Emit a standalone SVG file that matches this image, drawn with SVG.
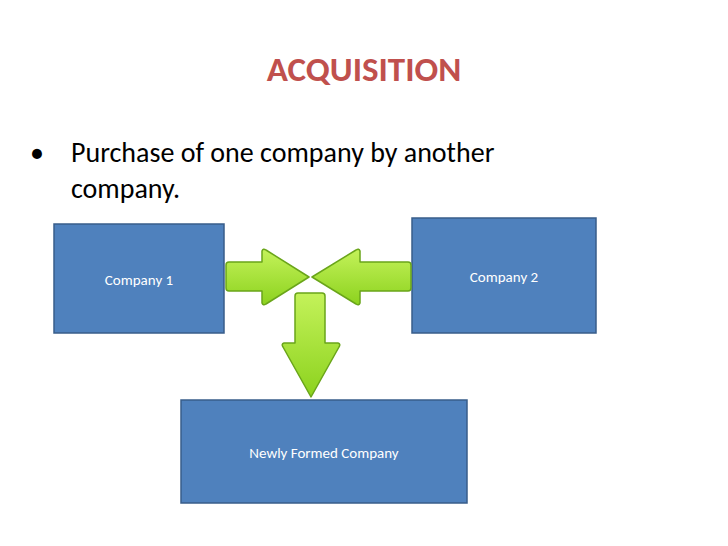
<svg xmlns="http://www.w3.org/2000/svg" width="728" height="546" viewBox="0 0 728 546">
<style>
.box{fill:#4f81bd;stroke:#385d8a;stroke-width:1.5}
.lbl{font-family:Calibri,Carlito,"Liberation Sans",sans-serif;font-size:15px;fill:#fff;text-anchor:middle}
.arr{fill:url(#g);stroke:#6aa51a;stroke-width:1.5;stroke-linejoin:round}
</style>
<defs>
<linearGradient id="g" x1="0" y1="0" x2="0" y2="1">
<stop offset="0" stop-color="#c4f25a"/><stop offset="1" stop-color="#8cd21e"/>
</linearGradient>
</defs>
<rect width="728" height="546" fill="#fff"/>
<text x="364" y="81" font-family="Calibri,Carlito,'Liberation Sans',sans-serif" font-size="35" font-weight="bold" fill="#c0504d" text-anchor="middle">ACQUISITION</text>
<text x="30" y="162" font-family="Calibri,Carlito,'Liberation Sans',sans-serif" font-size="28" fill="#000">•</text>
<text font-family="Calibri,Carlito,'Liberation Sans',sans-serif" font-size="28" fill="#000"><tspan x="71" y="162">Purchase of one company by another</tspan><tspan x="71" y="198">company.</tspan></text>
<g id="company1"><rect class="box" x="54" y="224" width="170" height="109"/><text class="lbl" x="139" y="285">Company 1</text></g>
<g id="company2"><rect class="box" x="412" y="218" width="184" height="115"/><text class="lbl" x="504" y="282">Company 2</text></g>
<g id="newco"><rect class="box" x="181" y="400" width="286" height="103"/><text class="lbl" x="324" y="458">Newly Formed Company</text></g>
<g id="connectors">
<path class="arr" d="M226,265 Q226,262 229,262 L262,262 L262,251 Q263,248 266,250 L309,277 L266,304 Q263,306 262,303 L262,291 L229,291 Q226,291 226,288 Z"/>
<path class="arr" d="M411,265 Q411,262 408,262 L360,262 L360,251 Q359,248 356,250 L312,277 L356,304 Q359,306 360,303 L360,291 L408,291 Q411,291 411,288 Z"/>
<path class="arr" d="M295,296 Q295,293 298,293 L322,293 Q325,293 325,296 L325,343 L338,343 Q341,344 339,347 L311,397 L283,347 Q281,344 284,343 L295,343 Z"/>
</g>
</svg>
